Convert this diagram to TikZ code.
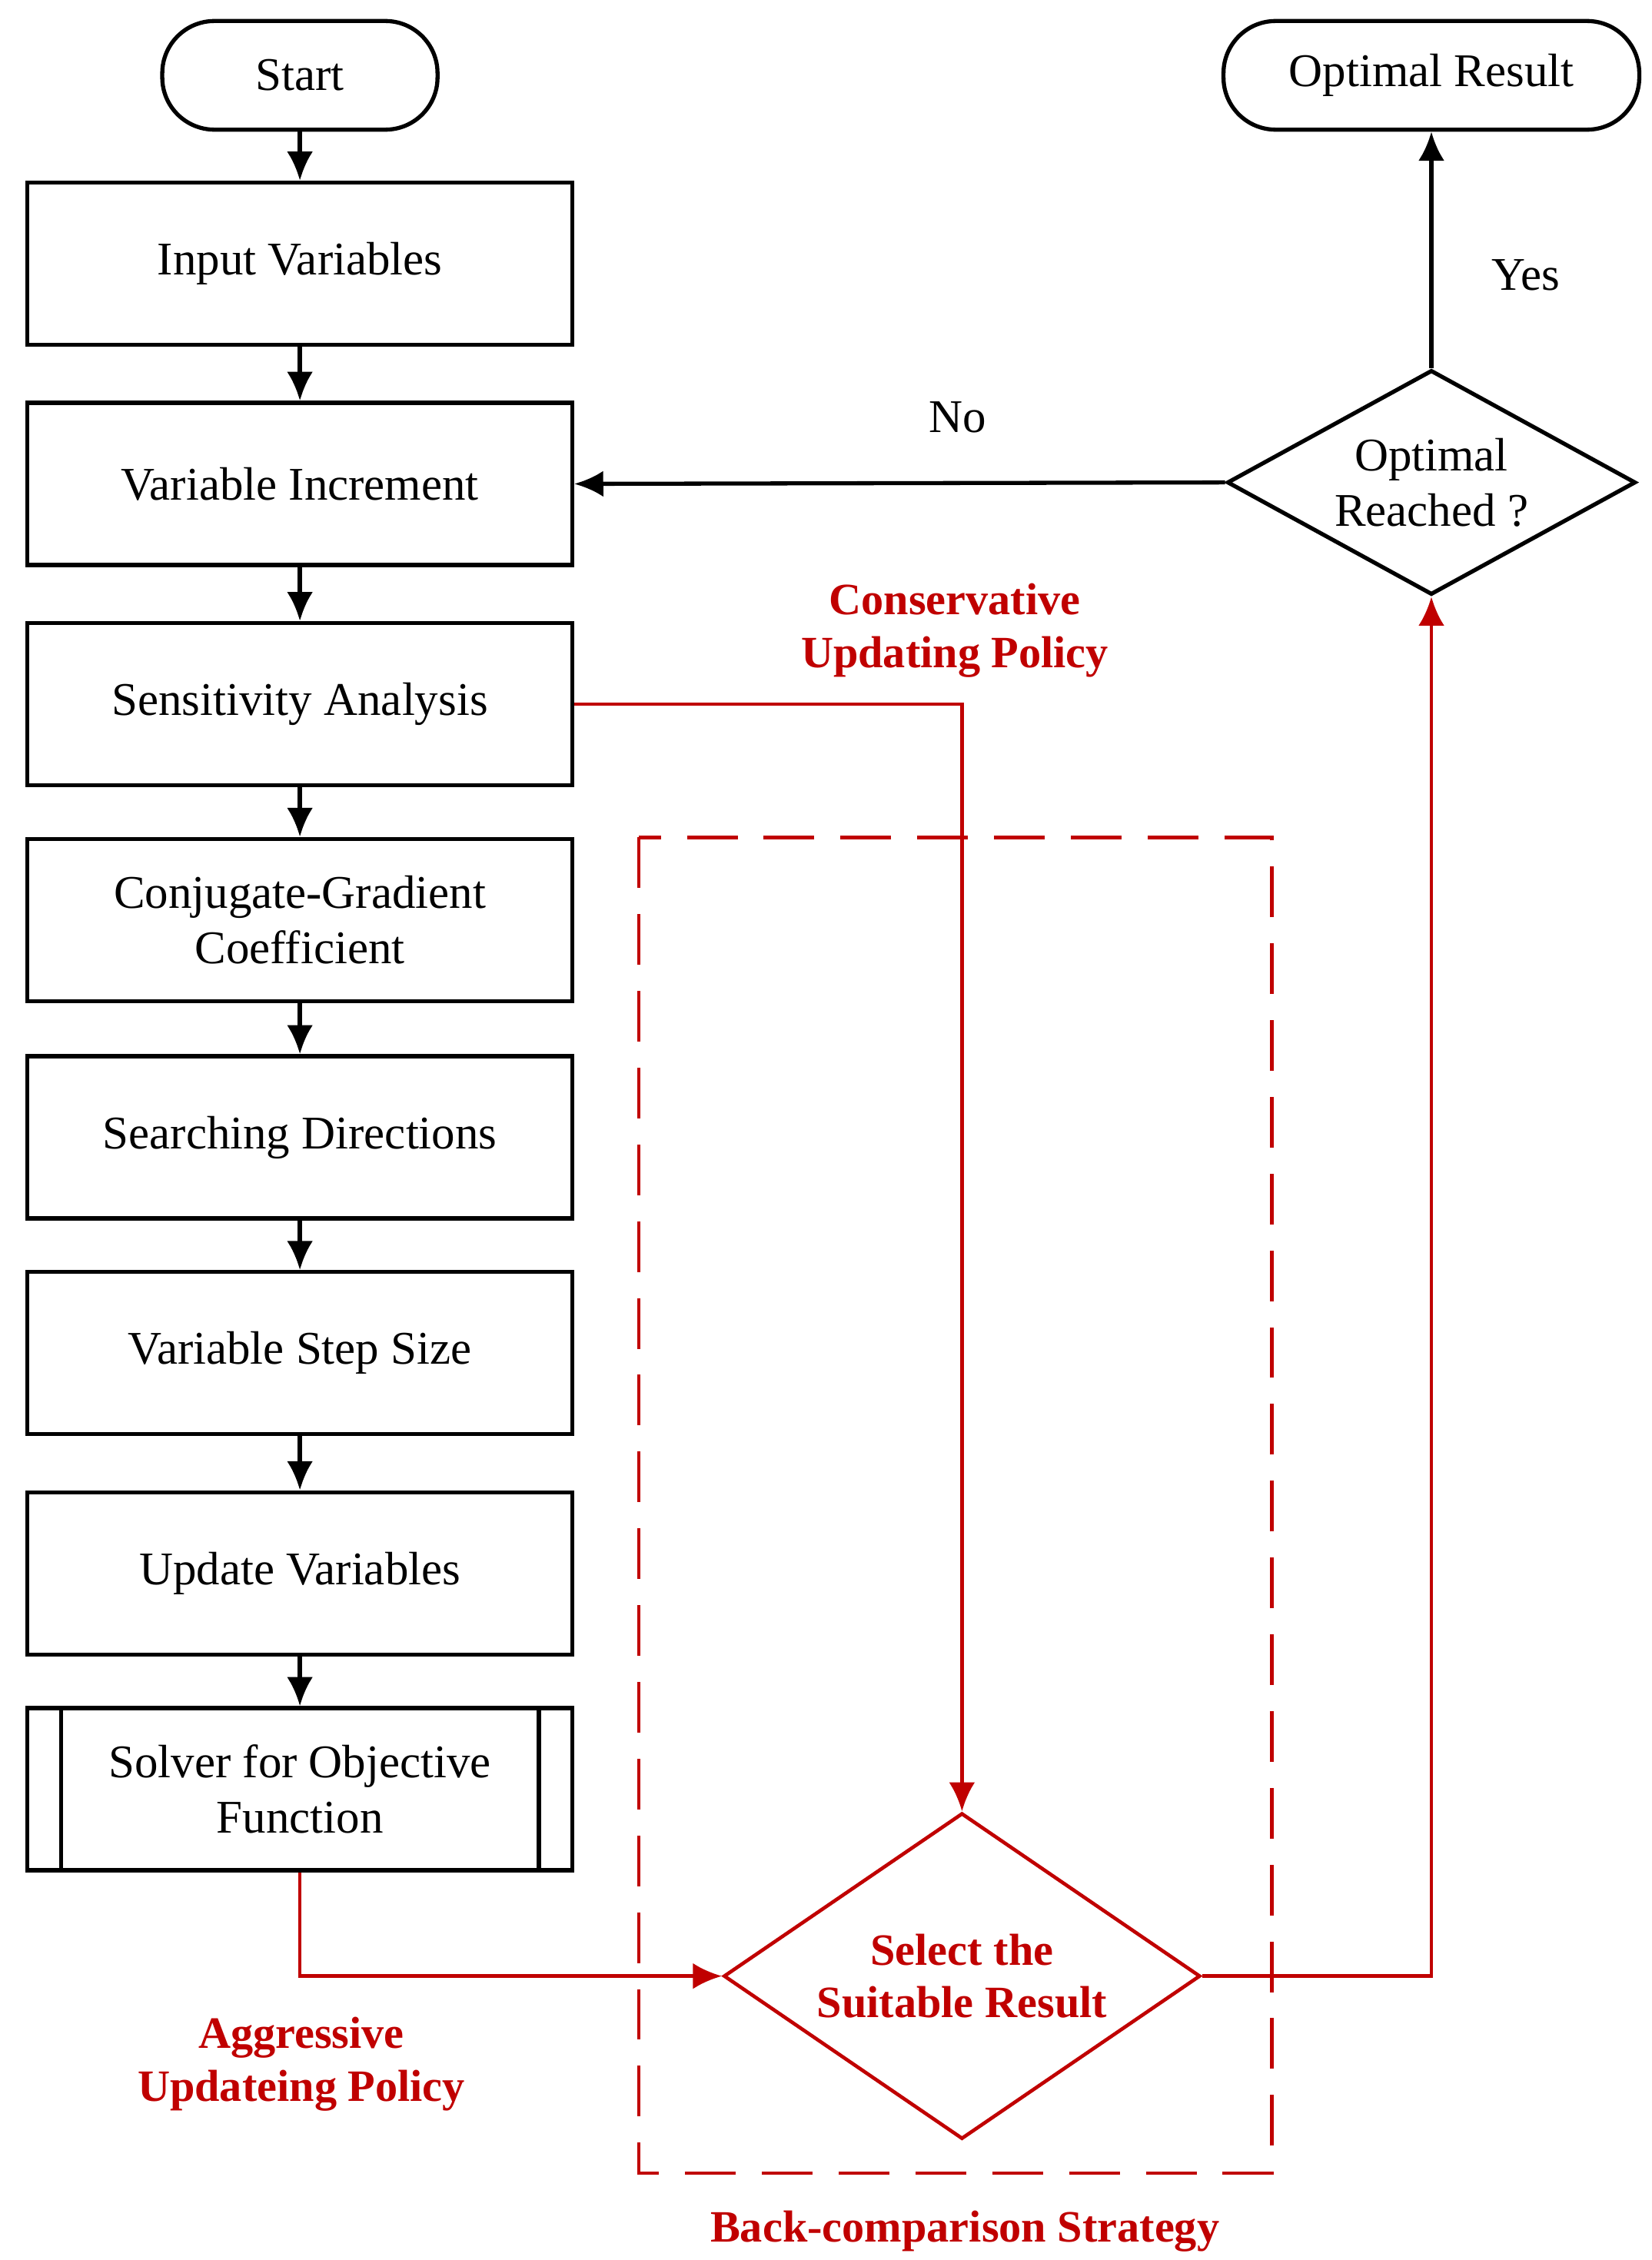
\documentclass[tikz,border=0pt]{standalone}
\usepackage{fontspec}
\setmainfont{Liberation Serif}
\usetikzlibrary{arrows.meta,shapes.geometric}
\definecolor{rd}{RGB}{192,0,0}
\begin{document}
\begin{tikzpicture}[x=0.05cm,y=-0.05cm,
  every node/.style={font=\fontsize{46}{54}\selectfont},
  box/.style={draw,line width=4pt,minimum width=18.8cm,minimum height=5.6cm,align=center,inner sep=0pt},
  term/.style={draw,line width=4pt,rounded corners=1.8cm,minimum height=3.75cm,inner sep=0pt},
  dia/.style={draw,diamond,aspect=1.8,line width=4pt,inner sep=0pt,align=center},
  arr/.style={line width=4pt,-{Latex[length=1cm,width=0.9cm]}},
  rarr/.style={line width=3.5pt,draw=rd,-{Latex[length=1cm,width=0.9cm]},color=rd},
  rlab/.style={text=rd,font=\fontsize{44}{52}\selectfont\bfseries,align=center}]
\useasboundingbox (0,0) rectangle (1140,1560);
\node[term,minimum width=9.5cm] (start) at (207,52) {Start};
\node[box] (in) at (207,182) {Input Variables};
\node[box] (inc) at (207,334) {Variable Increment};
\node[box] (sen) at (207,486) {Sensitivity Analysis};
\node[box] (cg) at (207,635) {Conjugate-Gradient\\Coefficient};
\node[box] (sd) at (207,785) {Searching Directions};
\node[box] (vs) at (207,934) {Variable Step Size};
\node[box] (up) at (207,1086) {Update Variables};
\node[box] (sol) at (207,1235) {Solver for Objective\\Function};
\draw[line width=4pt] (42,1179) -- (42,1291) (372,1179) -- (372,1291);
\node[term,minimum width=14.35cm] (res) at (988,52) {Optimal Result};
\node[draw,line width=4pt,inner sep=0pt,minimum width=14.1cm,minimum height=7.75cm,diamond,align=center,shape aspect=1.82] (opt) at (988,333) {Optimal\\Reached ?};
\node[draw=rd,line width=3.5pt,inner sep=0pt,minimum width=16.45cm,minimum height=11.25cm,diamond,shape aspect=1.46,rlab] (sel) at (664,1364) {Select the\\Suitable Result};
\draw[rd,line width=3.5pt,dash pattern=on 1.75cm off 0.9cm] (441,578) rectangle (878,1500);
\foreach \a/\b in {start/in,in/inc,inc/sen,sen/cg,cg/sd,sd/vs,vs/up,up/sol}
  \draw[arr] (\a) -- (\b);
\draw[arr] (opt.west) -- (inc.east);
\draw[arr] (opt.north) -- (res.south);
\node at (661,288) {No};
\node at (1053,190) {Yes};
\draw[rarr] (sen.east) -| (sel.north);
\draw[rarr] (sol.south) |- (sel.west);
\draw[rarr] (sel.east) -| (opt.south);
\node[rlab] at (659,435) {Conservative\\Updating Policy};
\node[rlab] at (208,1425) {Aggressive\\Updateing Policy};
\node[rlab] at (666,1540) {Back-comparison Strategy};
\end{tikzpicture}
\end{document}
